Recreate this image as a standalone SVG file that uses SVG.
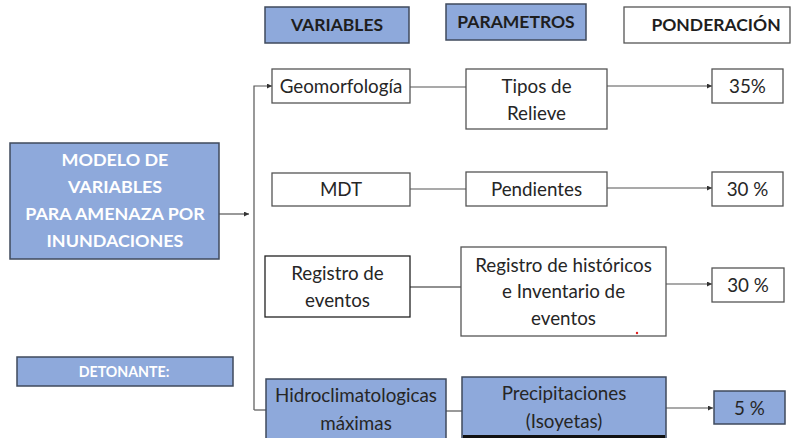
<svg xmlns="http://www.w3.org/2000/svg" width="796" height="438" viewBox="0 0 796 438">
<defs>
<style>
.b{fill:#8EA9DB;stroke:#3F4A5C;stroke-width:1.5}
.w{fill:#FFFFFF;stroke:#555555;stroke-width:1.3}
.t{font-family:Lato,"Open Sans","Liberation Sans",sans-serif;font-size:18.8px;fill:#262626;text-anchor:middle}
.h{font-family:Lato,"Open Sans","Liberation Sans",sans-serif;font-size:17.5px;font-weight:bold;fill:#1E1E1E;text-anchor:middle}
.m{font-family:Lato,"Open Sans","Liberation Sans",sans-serif;font-size:17.9px;font-weight:bold;fill:#FFFFFF;text-anchor:middle}
.c{fill:none;stroke:#555555;stroke-width:1.2}
</style>
<marker id="a" viewBox="0 0 6 6" refX="6" refY="3" markerWidth="5" markerHeight="5" orient="auto" markerUnits="userSpaceOnUse">
<path d="M0,0 L6,3 L0,6 Z" fill="#333333"/>
</marker>
</defs>
<rect width="796" height="438" fill="#FFFFFF"/>
<g id="connectors">
<path class="c" d="M219,214 H249" marker-end="url(#a)"/>
<path class="c" d="M254,410 V86 H272" marker-end="url(#a)"/>
<path class="c" d="M254,410 H266"/>
<path class="c" d="M410,87 H466"/>
<path class="c" d="M607,86 H712" marker-end="url(#a)"/>
<path class="c" d="M410,189 H466"/>
<path class="c" d="M607,188 H712" marker-end="url(#a)"/>
<path class="c" d="M410,287 H461" style="stroke:#222"/>
<path class="c" d="M666,284 H712" marker-end="url(#a)"/>
<path class="c" d="M446,411 H462"/>
<path class="c" d="M666,408 H713" marker-end="url(#a)"/>
</g>
<g id="h-variables"><rect class="b" x="265" y="7" width="144" height="36"/><text class="h" x="337" y="31">VARIABLES</text></g>
<g id="h-parametros"><rect class="b" x="446" y="4" width="140" height="36"/><text class="h" x="516" y="28">PARAMETROS</text></g>
<g id="h-ponderacion"><rect class="w" x="624" y="7" width="166" height="36"/><text class="h" x="716" y="31">PONDERACIÓN</text></g>
<g id="modelo"><rect class="b" x="10" y="143" width="209" height="116"/>
<text class="m" x="115" y="166">MODELO DE</text>
<text class="m" x="115" y="193">VARIABLES</text>
<text class="m" x="115" y="220">PARA AMENAZA POR</text>
<text class="m" x="115" y="247">INUNDACIONES</text></g>
<g id="detonante"><rect class="b" x="17" y="357" width="216" height="29"/><text class="m" x="124" y="377" style="font-size:14.2px">DETONANTE:</text></g>
<g id="geomorfologia"><rect class="w" x="272" y="69" width="138" height="34"/><text class="t" x="341" y="93">Geomorfología</text></g>
<g id="tipos"><rect class="w" x="466" y="69" width="141" height="60"/><text class="t" x="536.5" y="93">Tipos de</text><text class="t" x="536.5" y="120">Relieve</text></g>
<g id="p35"><rect class="w" x="712" y="69" width="71" height="34"/><text class="t" x="747.5" y="93">35%</text></g>
<g id="mdt"><rect class="w" x="272" y="173" width="138" height="33"/><text class="t" x="341" y="196">MDT</text></g>
<g id="pendientes"><rect class="w" x="466" y="172" width="141" height="34"/><text class="t" x="536.5" y="196">Pendientes</text></g>
<g id="p30a"><rect class="w" x="712" y="172" width="71" height="34"/><text class="t" x="747.5" y="196">30 %</text></g>
<g id="registro"><rect class="w" x="265" y="256" width="145" height="61" style="stroke:#222"/><text class="t" x="337.5" y="280">Registro de</text><text class="t" x="337.5" y="307">eventos</text></g>
<g id="historicos"><rect class="w" x="461" y="247" width="205" height="89"/><text class="t" x="563.5" y="272">Registro de históricos</text><text class="t" x="563.5" y="298">e Inventario de</text><text class="t" x="563.5" y="325">eventos</text></g>
<g id="p30b"><rect class="w" x="712" y="268" width="72" height="34"/><text class="t" x="748" y="292">30 %</text></g>
<g id="hidro"><rect class="b" x="266" y="379" width="180" height="62"/><text class="t" x="356" y="402">Hidroclimatologicas</text><text class="t" x="356" y="430">máximas</text></g>
<g id="precip"><rect class="b" x="462" y="377" width="204" height="62"/><text class="t" x="564" y="400">Precipitaciones</text><text class="t" x="564" y="428">(Isoyetas)</text></g>
<rect x="463" y="435" width="202" height="3" fill="#111111"/>
<g id="p5"><rect class="b" x="714" y="391" width="71" height="33"/><text class="t" x="749.5" y="415">5 %</text></g>
<circle cx="637" cy="333" r="1.2" fill="#E02020"/>
</svg>
